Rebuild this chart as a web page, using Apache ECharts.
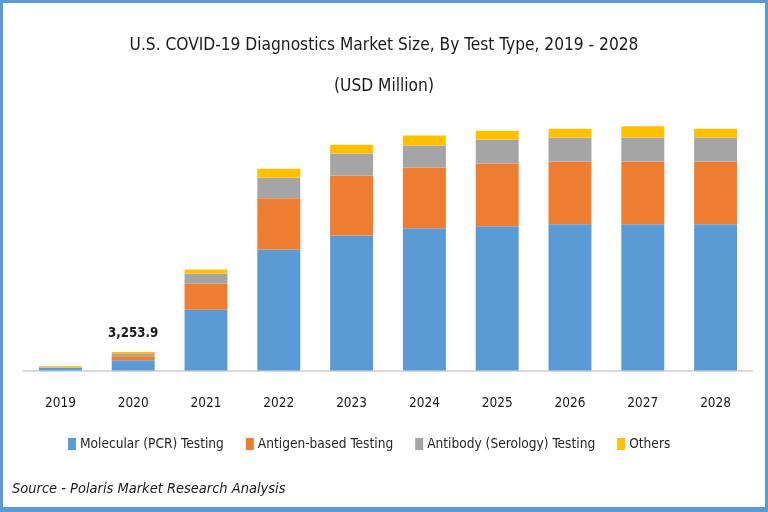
<!DOCTYPE html>
<html>
<head>
<meta charset="utf-8">
<script src="https://cdn.jsdelivr.net/npm/echarts@6/dist/echarts.min.js"></script>
<style>
html,body{margin:0;padding:0;background:#fff;}
#chart{width:768px;height:512px;}
</style>
</head>
<body>
<div id="chart"></div>
<script>
const years = ['2019','2020','2021','2022','2023','2024','2025','2026','2027','2028'];
const molecular = [450, 1800, 10680, 21300, 23760, 25050, 25400, 25750, 25750, 25750];
const antigen   = [50, 700, 4580, 9030, 10560, 10680, 11040, 11040, 11040, 11040];
const antibody  = [60, 410, 1810, 3590, 3870, 3870, 4220, 4220, 4220, 4220];
const others    = [180, 343.9, 700, 1580, 1530, 1760, 1530, 1530, 1990, 1530];
const labeledIndex = 1;

const FONT = "'Liberation Sans Narrow', 'DejaVu Sans Condensed', 'Liberation Sans', sans-serif";
const totals = years.map((_, i) => molecular[i] + antigen[i] + antibody[i] + others[i]);

function fmt(v) {
  return v.toLocaleString('en-US', {minimumFractionDigits: 1, maximumFractionDigits: 1});
}

const chart = echarts.init(document.getElementById('chart'));
const base = {type: 'bar', stack: 'total', barCategoryGap: '41%'};
chart.setOption({
  backgroundColor: '#ffffff',
  animation: false,
  title: [
    {text: 'U.S. COVID-19 Diagnostics Market Size, By Test Type, 2019 - 2028', left: 'center', top: 37, padding: 0,
     textStyle: {fontFamily: FONT, fontSize: 17.2, fontWeight: 'normal', color: '#1a1a1a'}},
    {text: '(USD Million)', left: 'center', top: 78, padding: 0,
     textStyle: {fontFamily: FONT, fontSize: 17.2, fontWeight: 'normal', color: '#1a1a1a'}}
  ],
  legend: {
    left: 68, top: 437, padding: 0,
    itemWidth: 8, itemHeight: 12, itemGap: 22,
    icon: 'rect',
    textStyle: {fontFamily: FONT, fontSize: 13.6, color: '#262626', padding: [0, 0, 0, -1]},
    data: ['Molecular (PCR) Testing', 'Antigen-based Testing', 'Antibody (Serology) Testing', 'Others']
  },
  grid: {left: 24, right: 16, top: 120.5, bottom: 141.5},
  xAxis: {
    type: 'category', data: years,
    axisLine: {lineStyle: {color: '#d9d9d9', width: 2}},
    axisTick: {show: false},
    axisLabel: {fontFamily: FONT, fontSize: 13.5, color: '#1a1a1a', margin: 26}
  },
  yAxis: {type: 'value', min: 0, max: 44000, show: false, splitLine: {show: false}},
  graphic: [
    {type: 'rect', shape: {x: 0, y: 0, width: 768, height: 3}, style: {fill: '#5B9BD5'}},
    {type: 'rect', shape: {x: 0, y: 0, width: 3, height: 512}, style: {fill: '#5B9BD5'}},
    {type: 'rect', shape: {x: 765, y: 0, width: 3, height: 512}, style: {fill: '#5B9BD5'}},
    {type: 'rect', shape: {x: 0, y: 507, width: 768, height: 5}, style: {fill: '#5B9BD5'}},
    {type: 'text', left: 12, top: 482,
     style: {text: 'Source - Polaris Market Research Analysis', fontFamily: FONT, fontSize: 14.5, fontStyle: 'italic', fill: '#1a1a1a'}}
  ],
  series: [
    Object.assign({}, base, {name: 'Molecular (PCR) Testing', data: molecular, itemStyle: {color: '#5B9BD5'}}),
    Object.assign({}, base, {name: 'Antigen-based Testing', data: antigen, itemStyle: {color: '#ED7D31'}}),
    Object.assign({}, base, {name: 'Antibody (Serology) Testing', data: antibody, itemStyle: {color: '#A5A5A5'}}),
    Object.assign({}, base, {name: 'Others', itemStyle: {color: '#FFC000'},
      data: others.map((v, i) => i === labeledIndex ? {
        value: v,
        label: {show: true, position: 'top', distance: 12, formatter: () => fmt(totals[i]),
                fontFamily: FONT, fontSize: 13.2, fontWeight: 'bold', color: '#1a1a1a'}
      } : v)
    })
  ]
});
</script>
</body>
</html>
